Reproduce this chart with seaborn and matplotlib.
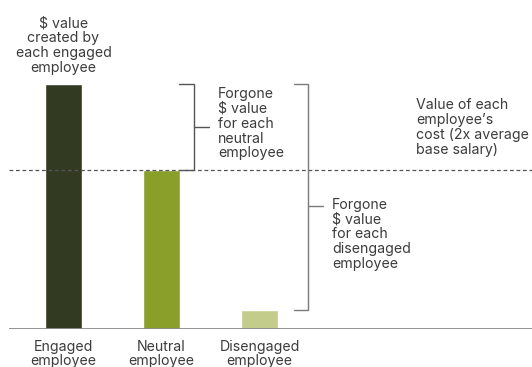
import matplotlib
matplotlib.use("Agg")
import matplotlib.pyplot as plt
import seaborn as sns
import pandas as pd

categories = ["Engaged\nemployee", "Neutral\nemployee", "Disengaged\nemployee"]
values = [100, 65, 7.8]
colors = ["#323a22", "#8a9e2a", "#c4cc8c"]
cost_line = 65
top_label = "$ value\ncreated by\neach engaged\nemployee"
neutral_label = "Forgone\n$ value\nfor each\nneutral\nemployee"
diseng_label = "Forgone\n$ value\nfor each\ndisengaged\nemployee"
cost_label = "Value of each\nemployee\u2019s\ncost (2x average\nbase salary)"

sns.set_theme(style="white")
plt.rcParams["font.family"] = ["Inter", "DejaVu Sans"]

txt = "#3c3c3c"
line_c = "#555555"

fig = plt.figure(figsize=(5.32, 3.67), dpi=100)
ax = fig.add_axes([9 / 532, 38 / 367, 523 / 532, 329 / 367])

df = pd.DataFrame({"cat": categories, "val": values})
sns.barplot(data=df, x="cat", y="val", hue="cat", palette=colors, width=0.378,
            legend=False, ax=ax, saturation=1)

ax.set_xlim(-0.556, 4.78)
ax.set_ylim(0, 134.3)
for s in ax.spines.values():
    s.set_visible(False)
ax.axhline(0, color="#8a8a8a", lw=1.3, zorder=5)
ax.axhline(cost_line, color=line_c, lw=0.9, ls=(0, (3, 2.2)), zorder=1)

fs = 10.2
ax.set_yticks([])
ax.set_xlabel("")
ax.set_ylabel("")
ax.set_xticks(range(3))
ax.set_xticklabels(categories, fontsize=fs, color=txt, linespacing=0.98)
ax.tick_params(axis="x", length=0, pad=8)

hw = 0.378 / 2
# bracket 1 (neutral)
bx1 = 1.335
ax.plot([1.18, bx1, bx1, 1 + hw], [values[0], values[0], values[1], values[1]],
        color=line_c, lw=1.0, solid_joinstyle="miter")
ax.plot([bx1, 1.485], [(values[0] + values[1]) / 2] * 2, color=line_c, lw=1.0)
# bracket 2 (disengaged)
bx2 = 2.495
ax.plot([2.352, bx2, bx2, 2.352], [values[0], values[0], values[2], values[2]],
        color="#7a7a7a", lw=1.0, solid_joinstyle="miter")
ax.plot([bx2, 2.648], [50.2] * 2, color="#7a7a7a", lw=1.0)

ls = 1.08
ax.text(0, 127.6, top_label, ha="center", va="top", fontsize=fs, color=txt, linespacing=ls)
ax.text(1.577, 98.8, neutral_label, ha="left", va="top", fontsize=fs, color=txt, linespacing=ls)
ax.text(2.74, 53.6, diseng_label, ha="left", va="top", fontsize=fs, color=txt, linespacing=ls)
ax.text(3.597, 94.3, cost_label, ha="left", va="top", fontsize=fs, color=txt, linespacing=ls)

fig.savefig("out.png", dpi=100)
